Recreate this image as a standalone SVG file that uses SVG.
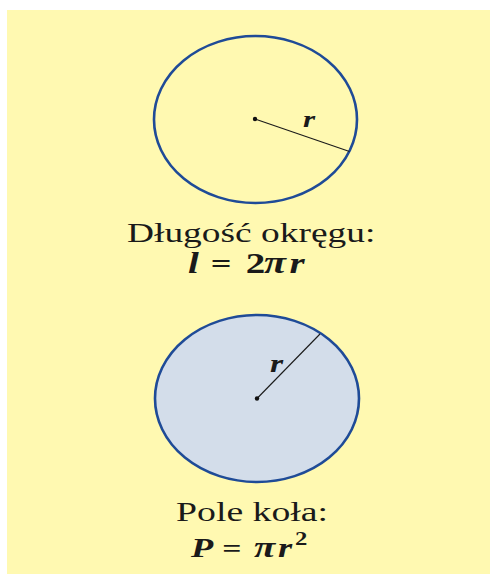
<svg xmlns="http://www.w3.org/2000/svg" width="490" height="574" viewBox="0 0 490 574">
<style>
.ring{stroke:#1F4B97;stroke-width:2.6}
.rad{stroke:#1a1a1a;stroke-width:1.1}
.dot{fill:#111}
.body{font-family:"Liberation Serif","Times New Roman",serif;fill:#1a1a1a}
.math{font-family:"Liberation Serif","Times New Roman",serif;font-weight:bold;font-style:italic;fill:#1a1a1a}
</style>
<rect x="0" y="0" width="490" height="574" fill="#ffffff"/>
<rect x="7" y="10" width="483" height="564" fill="#FFF9B1"/>
<g id="circle-top">
<ellipse class="ring" cx="255.5" cy="119.5" rx="101.5" ry="83.5" fill="none"/>
<line class="rad" x1="255" y1="119" x2="349.5" y2="151.5"/>
<circle class="dot" cx="255" cy="119" r="2.2"/>
<text class="math" font-size="24" transform="translate(303,127) scale(1.3,1)">r</text>
</g>
<g id="label-top">
<text class="body" font-size="28" transform="translate(127,242) scale(1.3,1)" textLength="191" lengthAdjust="spacingAndGlyphs">Długość okręgu:</text>
<text class="math" font-size="30" transform="translate(188,273) scale(1.3,1)"><tspan x="0">l</tspan><tspan x="17.5" font-style="normal" font-size="28">=</tspan><tspan x="44.5" font-style="normal">2</tspan><tspan x="58.5" font-size="31">π</tspan><tspan x="78">r</tspan></text>
</g>
<g id="circle-bottom">
<ellipse class="ring" cx="257" cy="398.5" rx="102" ry="83.5" fill="#D3DDEA"/>
<line class="rad" x1="257" y1="398.5" x2="320" y2="334"/>
<circle class="dot" cx="257" cy="398.5" r="2.2"/>
<text class="math" font-size="26" transform="translate(270,372) scale(1.3,1)">r</text>
</g>
<g id="label-bottom">
<text class="body" font-size="28" transform="translate(176,521) scale(1.3,1)" textLength="117" lengthAdjust="spacingAndGlyphs">Pole koła:</text>
<text class="math" font-size="28" transform="translate(191,557) scale(1.3,1)"><tspan x="0">P</tspan><tspan x="24" font-style="normal" font-size="26">=</tspan><tspan x="48.5" font-size="30">π</tspan><tspan x="67">r</tspan><tspan x="80" dy="-12" font-size="19" font-style="normal">2</tspan></text>
</g>
</svg>
